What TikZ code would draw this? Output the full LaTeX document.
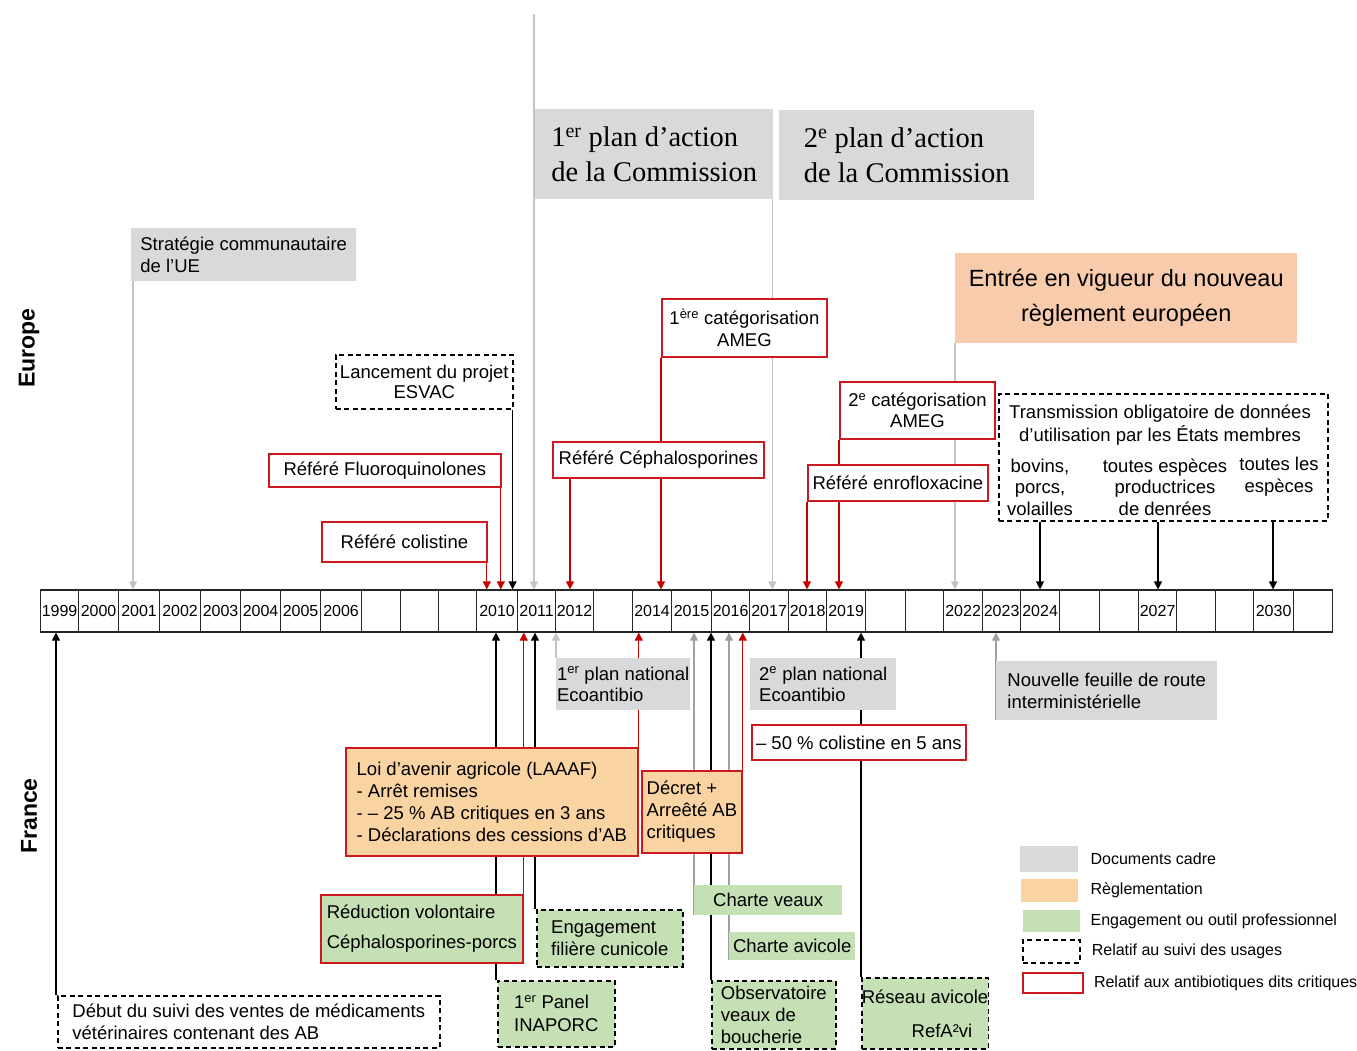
\documentclass[tikz,border=0pt]{standalone}
\usepackage{fontspec}
\setmainfont{Liberation Sans}
\newfontfamily\planfont{Liberation Serif}
\usetikzlibrary{arrows.meta, positioning, backgrounds}
\definecolor{cadregray}{RGB}{217,217,217}
\definecolor{reglpeach}{RGB}{250,211,163}
\definecolor{entreepeach}{RGB}{247,203,172}
\definecolor{engagegreen}{RGB}{197,224,180}
\definecolor{critred}{RGB}{204,24,30}
\definecolor{arrowred}{RGB}{196,0,0}
\definecolor{lightline}{RGB}{196,196,196}
\definecolor{midline}{RGB}{160,160,160}

\begin{document}
\begin{tikzpicture}[x=1pt, y=-1pt, >={Triangle[length=8pt,width=8pt]},
    every node/.style={inner sep=0pt, font=\fontsize{18.5}{21.5}\selectfont},
    box/.style={anchor=north west, align=left, fill=white},
    cadre/.style={box, fill=cadregray},
    regl/.style={box, fill=reglpeach},
    engage/.style={box, fill=engagegreen},
    suivi/.style={draw=black, line width=1.6pt, dash pattern=on 5pt off 3.5pt},
    crit/.style={draw=critred, line width=1.8pt},
    cell/.style={draw=black!85, line width=1.2pt, anchor=west, minimum height=42pt,
                 font=\fontsize{16}{18}\selectfont},
    link/.style={->, line width=1.2pt},
    legend/.style={font=\fontsize{16}{18}\selectfont}]
  \useasboundingbox (0,0) rectangle (1357,1050);

  % timeline
  \foreach \a/\b/\yr/\lab in {40/78/1999/1999, 78/118/2000/2000, 118/159/2001/2001,
      159/200/2002/2002, 200/240/2003/2003, 240/280/2004/2004, 280/320/2005/2005,
      320/361/2006/2006, 361/400/2007/{}, 400/438/2008/{}, 438/476/2009/{},
      476/517/2010/2010, 517/555/2011/2011, 555/593/2012/2012, 593/632/2013/{},
      632/671/2014/2014, 671/711/2015/2015, 711/749/2016/2016, 749/788/2017/2017,
      788/826/2018/2018, 826/865/2019/2019, 865/905/2020/{}, 905/943/2021/{},
      943/982/2022/2022, 982/1020/2023/2023, 1020/1059/2024/2024, 1059/1099/2025/{},
      1099/1138/2026/{}, 1138/1176/2027/2027, 1176/1215/2028/{}, 1215/1253/2029/{},
      1253/1293/2030/2030, 1293/1332/2031/{}}
    \node[cell, minimum width=\b-\a] (y\yr) at (\a,611) {\lab};

  \node[rotate=90, font=\bfseries\fontsize{23}{26}\selectfont] (europe) at (29,348) {Europe};
  \node[rotate=90, font=\bfseries\fontsize{23}{26}\selectfont] (france) at (29,816) {France};

  % Europe
  \node[cadre, minimum width=225pt, minimum height=53pt] (strat) at (131,228)
    {Stratégie communautaire\\de l’UE};
  \node[cadre, minimum width=238pt, minimum height=90pt, font=\planfont\fontsize{28.5}{35}\selectfont]
    (plan1) at (535,109) {1\textsuperscript{er} plan d’action\\de la Commission};
  \node[cadre, minimum width=255pt, minimum height=90pt, font=\planfont\fontsize{28.5}{35}\selectfont]
    (plan2) at (779,110) {2\textsuperscript{e} plan d’action\\de la Commission};
  \coordinate (plantop) at (534,14);
  \node[box, fill=entreepeach, align=center, minimum width=342pt, minimum height=90pt,
    font=\fontsize{23.5}{35}\selectfont] (entree) at (955,253)
    {Entrée en vigueur du nouveau\\règlement européen};
  \node[box, crit, align=center, minimum width=165pt, minimum height=58pt] (ameg1) at (661,298)
    {1\textsuperscript{ère} catégorisation\\AMEG};
  \node[box, suivi, align=center, minimum width=177pt, minimum height=54pt,
    font=\fontsize{18.5}{20}\selectfont] (esvac) at (335,354) {Lancement du projet\\ESVAC};
  \node[box, crit, minimum width=211pt, minimum height=36pt] (ceph) at (552,441)
    {Référé Céphalosporines};
  \node[box, crit, minimum width=232pt, minimum height=33pt] (fluo) at (268,453)
    {Référé Fluoroquinolones};
  \node[box, crit, minimum width=165pt, minimum height=40pt] (colis) at (321,521)
    {Référé colistine};
  \node[box, crit, align=center, minimum width=155pt, minimum height=57pt] (ameg2) at (839,381)
    {2\textsuperscript{e} catégorisation\\AMEG};
  \node[box, crit, minimum width=180pt, minimum height=36pt] (enro) at (807,464)
    {Référé enrofloxacine};
  \node[box, suivi, minimum width=329pt, minimum height=127pt] (transm) at (998,393) {};
  \node[align=center, font=\fontsize{18.5}{23}\selectfont] (transmtxt) at (1160,425.5)
    {Transmission obligatoire de données\\d’utilisation par les États membres};
  \node[align=center] (bovins) at (1040,487) {bovins,\\porcs,\\volailles};
  \node[align=center] (productrices) at (1165,487) {toutes espèces\\productrices\\de denrées};
  \node[align=center] (toutes) at (1279,476.5) {toutes les\\espèces};

  % France
  \node[cadre, minimum width=134pt, minimum height=52pt] (plan1fr) at (556,658)
    {1\textsuperscript{er} plan national\\Ecoantibio};
  \node[cadre, minimum width=146pt, minimum height=52pt] (plan2fr) at (750,658)
    {2\textsuperscript{e} plan national\\Ecoantibio};
  \node[box, crit, minimum width=214pt, minimum height=35pt] (colis50) at (751,724)
    {– 50 \% colistine en 5 ans};
  \node[cadre, minimum width=221pt, minimum height=59pt] (feuille) at (996,661)
    {Nouvelle feuille de route\\interministérielle};
  \node[regl, crit, minimum width=292pt, minimum height=108pt, font=\fontsize{18.5}{22.3}\selectfont]
    (laaaf) at (345,747) {Loi d’avenir agricole (LAAAF)\\- Arrêt remises\\- – 25 \% AB critiques en 3 ans\\- Déclarations des cessions d’AB};
  \node[regl, crit, minimum width=100pt, minimum height=82pt, font=\fontsize{18.5}{22}\selectfont]
    (decret) at (641,770) {Décret +\\Arreêté AB\\critiques};
  \node[engage, crit, minimum width=202pt, minimum height=68pt, font=\fontsize{18.5}{30}\selectfont]
    (reduc) at (320,894) {Réduction volontaire\\Céphalosporines-porcs};
  \node[engage, suivi, minimum width=146pt, minimum height=57pt] (cunic) at (536,909)
    {Engagement\\filière cunicole};
  \node[engage, suivi, minimum width=117pt, minimum height=66pt, font=\fontsize{18.5}{23}\selectfont]
    (inaporc) at (497,980) {1\textsuperscript{er} Panel\\INAPORC};
  \node[engage, minimum width=148pt, minimum height=30pt] (chveaux) at (694,885) {Charte veaux};
  \node[engage, minimum width=126pt, minimum height=28pt] (chavi) at (729,932) {Charte avicole};
  \node[engage, suivi, minimum width=124pt, minimum height=68pt, font=\fontsize{18.5}{22}\selectfont]
    (observ) at (711,980) {Observatoire\\veaux de\\boucherie};
  \node[engage, suivi, align=right, minimum width=126pt, minimum height=71pt,
    font=\fontsize{18.5}{34}\selectfont] (refavi) at (861,977)
    {Réseau avicole\\RefA²vi\hspace*{16pt}};
  \node[box, suivi, minimum width=382pt, minimum height=52pt] (debut) at (57,995)
    {Début du suivi des ventes de médicaments\\vétérinaires contenant des AB};

  % legend
  \node[box, fill=cadregray, minimum width=58pt, minimum height=26pt] (lgcadre) at (1020,846) {};
  \node[legend, right=12pt of lgcadre] (lgcadretxt) {Documents cadre};
  \node[regl, minimum width=57pt, minimum height=23pt] (lgregl) at (1021,879) {};
  \node[legend, right=12pt of lgregl] (lgregltxt) {Règlementation};
  \node[engage, minimum width=57pt, minimum height=22pt] (lgengage) at (1023,910) {};
  \node[legend, right=10pt of lgengage] (lgengagetxt) {Engagement ou outil professionnel};
  \node[box, suivi, minimum width=57pt, minimum height=23pt] (lgsuivi) at (1022,939) {};
  \node[legend, right=11pt of lgsuivi] (lgsuivitxt) {Relatif au suivi des usages};
  \node[box, crit, minimum width=60pt, minimum height=20pt] (lgcrit) at (1022,972) {};
  \node[legend, right=10pt of lgcrit] (lgcrittxt) {Relatif aux antibiotiques dits critiques};

  % connectors
  \begin{scope}[on background layer]
    \draw[link, lightline] ([xshift=2pt]strat.south west) -- ([xshift=2pt]strat.south west |- y2001.north);
    \draw[link, lightline] (plantop) -- (plantop |- y2011.north);
    \draw[link, lightline] ([xshift=-1pt]plan1.south east) -- ([xshift=-1pt]plan1.south east |- y2017.north);
    \draw[link, lightline] (entree.south west) -- (entree.south west |- y2022.north);
    \draw[link, arrowred] (ameg1.south west) -- (ameg1.south west |- y2014.north);
    \draw[link, arrowred] ([xshift=18pt]ceph.south west) -- ([xshift=18pt]ceph.south west |- y2012.north);
    \draw[link, black] ([xshift=-1pt]esvac.south east) -- ([xshift=-1pt]esvac.south east |- y2010.north);
    \draw[link, arrowred] ([xshift=-1pt]fluo.south east) -- ([xshift=-1pt]fluo.south east |- y2010.north);
    \draw[link, arrowred] ([xshift=-1pt]colis.south east) -- ([xshift=-1pt]colis.south east |- y2010.north);
    \draw[link, arrowred] (ameg2.south west) -- (ameg2.south west |- y2019.north);
    \draw[link, arrowred] (enro.south west) -- (enro.south west |- y2018.north);
    \draw[link, black] ([xshift=42pt]transm.south west) -- ([xshift=42pt]transm.south west |- y2024.north);
    \draw[link, black] ([xshift=160pt]transm.south west) -- ([xshift=160pt]transm.south west |- y2027.north);
    \draw[link, black] ([xshift=275pt]transm.south west) -- ([xshift=275pt]transm.south west |- y2030.north);

    \draw[link, black] ([xshift=-1pt]debut.north west) -- ([xshift=-1pt]debut.north west |- y1999.south);
    \draw[link, black] ([xshift=-1pt]inaporc.north west) -- ([xshift=-1pt]inaporc.north west |- y2010.south);
    \draw[link, arrowred] (reduc.north east) -- (reduc.north east |- y2011.south);
    \draw[link, black] ([xshift=-1pt]cunic.north west) -- ([xshift=-1pt]cunic.north west |- y2011.south);
    \draw[link, lightline] (plan1fr.north west) -- (plan1fr.north west |- y2012.south);
    \draw[link, arrowred] (laaaf.north east) -- (laaaf.north east |- y2014.south);
    \draw[link, midline] (chveaux.south west) -- (chveaux.south west |- y2015.south);
    \draw[link, black] (observ.north west) -- (observ.north west |- y2016.south);
    \draw[link, midline] (chavi.south west) -- (chavi.south west |- y2016.south);
    \draw[link, arrowred] (decret.north east) -- (decret.north east |- y2016.south);
    \draw[link, black] (refavi.north west) -- (refavi.north west |- y2019.south);
    \draw[link, midline] (feuille.south west) -- (feuille.south west |- y2023.south);
  \end{scope}
\end{tikzpicture}
\end{document}
